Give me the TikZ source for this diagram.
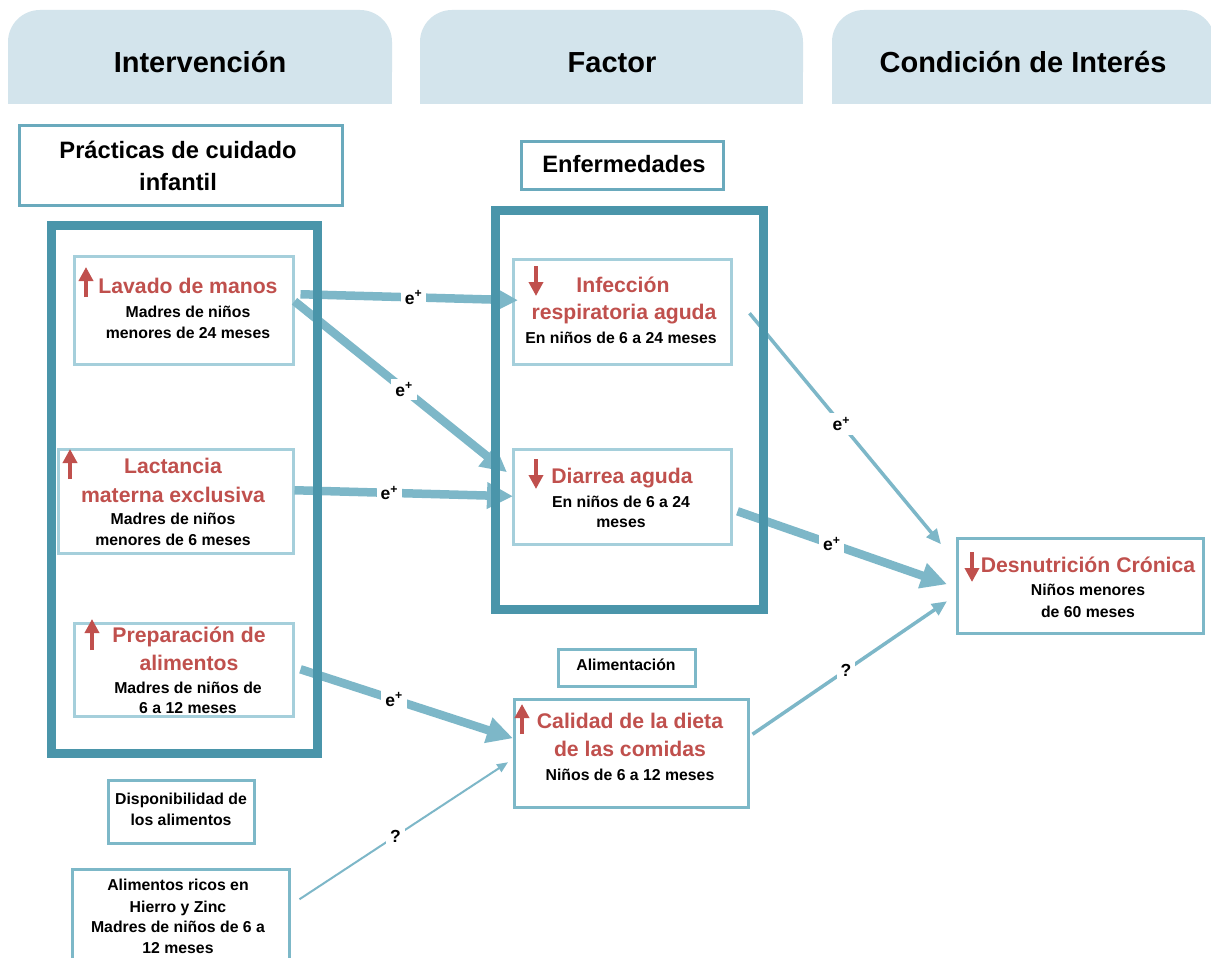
\documentclass[tikz,border=0pt]{standalone}
\usepackage{fontspec}
\setmainfont{Liberation Sans}
\usetikzlibrary{arrows.meta}
\definecolor{hdr}{HTML}{D3E4EC}
\definecolor{frm}{HTML}{4A95AA}
\definecolor{bx}{HTML}{7DB8C8}
\definecolor{bxl}{HTML}{A5CFDB}
\definecolor{bxd}{HTML}{6AAABD}
\definecolor{arr}{HTML}{7DB7C8}
\definecolor{rd}{HTML}{C0504D}
\begin{document}
\begin{tikzpicture}[x=1pt,y=-1pt,
  box/.style={draw=bx, line width=2.5pt, inner sep=0pt, anchor=north west, fill=white},
  lbox/.style={box, draw=bxl},
  dbox/.style={box, draw=bxd},
  frame/.style={draw=frm, line width=9pt, inner sep=0pt, anchor=north west},
  hd/.style={font=\fontsize{29}{34}\selectfont\bfseries, anchor=base, inner sep=0pt},
  bt/.style={font=\fontsize{23.7}{28}\selectfont\bfseries, anchor=base, inner sep=0pt},
  rt/.style={font=\fontsize{21.2}{26}\selectfont\bfseries, text=rd, anchor=base, inner sep=0pt},
  st/.style={font=\fontsize{15.8}{19}\selectfont\bfseries, anchor=base, inner sep=0pt},
  lbl/.style={font=\fontsize{17.5}{20}\selectfont\bfseries, fill=white, inner sep=4pt},
  thickarr/.style={draw=arr, line width=8.5pt, -{Triangle[length=26pt,width=25pt]}},
  midarr/.style={draw=arr, line width=3.5pt, -{Triangle[length=15pt,width=13pt]}},
  thinarr/.style={draw=arr, line width=2pt, -{Triangle[length=11pt,width=9pt]}},
  redar/.style={draw=rd, line width=4.5pt, -{Triangle[length=14pt,width=14pt]}}
]
\useasboundingbox (0,0) rectangle (1211,958);
\fill[white] (0,0) rectangle (1211,958);

% headers
\fill[hdr, rounded corners=32pt] (8,10) rectangle (392,104);
\fill[hdr] (8,60) rectangle (392,104);
\fill[hdr, rounded corners=32pt] (420,10) rectangle (803,104);
\fill[hdr] (420,60) rectangle (803,104);
\fill[hdr, rounded corners=32pt] (832,10) rectangle (1215,104);
\fill[hdr] (832,60) rectangle (1215,104);
\node[hd] (h1) at (200,73) {Intervención};
\node[hd] (h2) at (612,73) {Factor};
\node[hd] (h3) at (1023,73) {Condición de Interés};

% boxes
\node[dbox, minimum width=323pt, minimum height=80pt] (pract) at (18,124) {};
\node[lbox, minimum width=219pt, minimum height=108pt] (lav) at (73,255) {};
\node[lbox, minimum width=235pt, minimum height=104pt] (lac) at (57,448) {};
\node[lbox, minimum width=219pt, minimum height=93pt] (prep) at (73,622) {};
\node[box, minimum width=146pt, minimum height=63pt] (disp) at (107,779) {};
\node[box, minimum width=217pt, minimum height=100pt] (alim) at (71,868) {};
\node[dbox, minimum width=202pt, minimum height=48pt] (enf) at (520,140) {};
\node[lbox, minimum width=218pt, minimum height=105pt] (inf) at (512,258) {};
\node[lbox, minimum width=218pt, minimum height=95pt] (dia) at (512,448) {};
\node[box, minimum width=137pt, minimum height=37pt] (ali) at (557,648) {};
\node[box, minimum width=234pt, minimum height=108pt] (cal) at (513,698) {};
\node[box, minimum width=246pt, minimum height=95pt] (des) at (956,537) {};

% texts
\node[bt] (pract1) at (178,158) {Prácticas de cuidado};
\node[bt] (pract2) at (178,190) {infantil};

\node[rt] (lav1) at (188,293) {Lavado de manos};
\node[st] (lav2) at (188,317) {Madres de niños};
\node[st] (lav3) at (188,338) {menores de 24 meses};

\node[rt] (lac1) at (173,473) {Lactancia};
\node[rt] (lac2) at (173,502) {materna exclusiva};
\node[st] (lac3) at (173,524) {Madres de niños};
\node[st] (lac4) at (173,545) {menores de 6 meses};

\node[rt] (prep1) at (189,642) {Preparación de};
\node[rt] (prep2) at (189,670) {alimentos};
\node[st] (prep3) at (188,693) {Madres de niños de};
\node[st] (prep4) at (188,713) {6 a 12 meses};

\node[st] (disp1) at (181,804) {Disponibilidad de};
\node[st] (disp2) at (181,825) {los alimentos};

\node[st] (alim1) at (178,890) {Alimentos ricos en};
\node[st] (alim2) at (178,912) {Hierro y Zinc};
\node[st] (alim3) at (178,932) {Madres de niños de 6 a};
\node[st] (alim4) at (178,953) {12 meses};

\node[bt] (enf1) at (624,172) {Enfermedades};

\node[rt] (inf1) at (623,292) {Infección};
\node[rt] (inf2) at (624,319) {respiratoria aguda};
\node[st] (inf3) at (621,343) {En niños de 6 a 24 meses};

\node[rt] (dia1) at (622,483) {Diarrea aguda};
\node[st] (dia2) at (621,507) {En niños de 6 a 24};
\node[st] (dia3) at (621,527) {meses};

\node[st] (ali1) at (626,670) {Alimentación};

\node[rt] (cal1) at (630,728) {Calidad de la dieta};
\node[rt] (cal2) at (630,756) {de las comidas};
\node[st] (cal3) at (630,780) {Niños de 6 a 12 meses};

\node[rt] (des1) at (1088,572) {Desnutrición Crónica};
\node[st] (des2) at (1088,595) {Niños menores};
\node[st] (des3) at (1088,617) {de 60 meses};

% red indicator arrows
\draw[redar] (86,297) -- (86,267);
\draw[redar] (70,479) -- (70,449);
\draw[redar] (92,650) -- (92,619);
\draw[redar] (536,266) -- (536,296);
\draw[redar] (536,459) -- (536,489);
\draw[redar] (522,734) -- (522,704);
\draw[redar] (972,552) -- (972,582);

% connectors
\draw[thickarr] ([shift={(6,-16)}]lav.east) -- node[lbl, pos=0.52] (l1) {e\textsuperscript{+}} ([shift={(6,-11.5)}]inf.west);
\draw[thickarr] ([shift={(0,-9)}]lav.east) -- node[lbl, pos=0.516] (l2) {e\textsuperscript{+}} ([shift={(-5,-24.5)}]dia.west);
\draw[thickarr] ([shift={(0,-11)}]lac.east) -- node[lbl, pos=0.434] (l3) {e\textsuperscript{+}} ([shift={(1,-0.5)}]dia.west);
\draw[thickarr] ([shift={(6,-0.5)}]prep.east) -- node[lbl, pos=0.44] (l4) {e\textsuperscript{+}} ([shift={(0,-15)}]cal.west);
\draw[thinarr] ([shift={(9,-20)}]alim.east) -- node[lbl, pos=0.46] (l5) {?} ([shift={(-5,9)}]cal.west);
\draw[midarr] ([shift={(17,1.5)}]inf.east) -- node[lbl, pos=0.48] (l6) {e\textsuperscript{+}} ([shift={(-15,-41.5)}]des.west);
\draw[thickarr] ([shift={(5,14.5)}]dia.east) -- node[lbl, pos=0.45] (l7) {e\textsuperscript{+}} ([shift={(-9,-1.5)}]des.west);
\draw[midarr] ([shift={(3,-19)}]cal.east) -- node[lbl, pos=0.48] (l8) {?} ([shift={(-9,15.5)}]des.west);

% frames (drawn over the connectors)
\node[frame, minimum width=266pt, minimum height=528pt] (fr1) at (47,221) {};
\node[frame, minimum width=268pt, minimum height=399pt] (fr2) at (491,206) {};
\end{tikzpicture}
\end{document}
